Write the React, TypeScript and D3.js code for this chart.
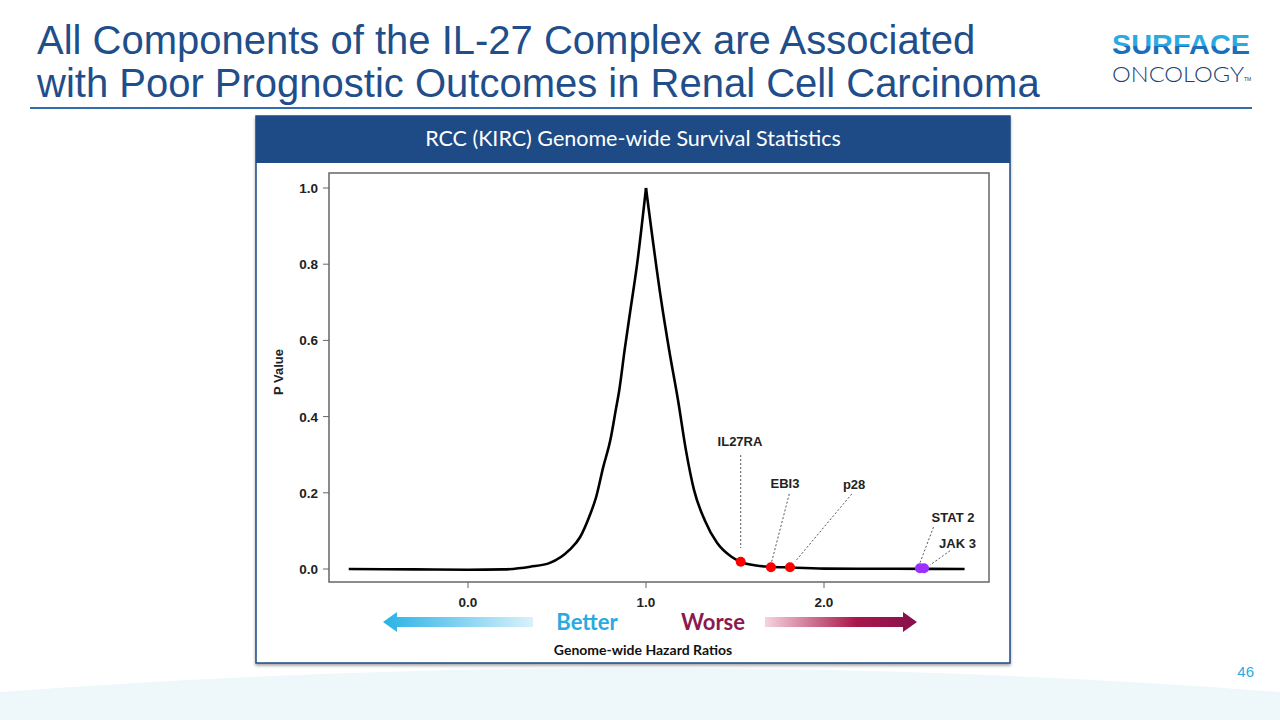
import React from "react";
import * as d3 from "d3";

// ---- Data ----
const leftHR = [-0.67, -0.3, 0.0, 0.2, 0.35, 0.46, 0.57, 0.63, 0.68, 0.72, 0.76, 0.8, 0.83, 0.85, 0.88, 0.91, 0.95, 1.0];
const leftP = [0.0, -0.001, -0.002, -0.001, 0.006, 0.016, 0.05, 0.084, 0.136, 0.189, 0.268, 0.339, 0.417, 0.47, 0.575, 0.672, 0.8, 1.0];
const rightHR = [1.0, 1.085, 1.13, 1.18, 1.225, 1.27, 1.33, 1.4, 1.48, 1.53, 1.62, 1.7, 1.8, 2.0, 2.4, 2.79];
const rightP = [1.0, 0.706, 0.575, 0.443, 0.31, 0.207, 0.128, 0.068, 0.032, 0.019, 0.009, 0.006, 0.004, 0.001, 0.0005, 0.0];

const geneNames = ["IL27RA", "EBI3", "p28", "STAT 2", "JAK 3"];
const geneHR = [1.532, 1.702, 1.809, 2.539, 2.562];
const geneP = [0.019, 0.0045, 0.0045, 0.002, 0.002];
const geneColors = ["#ff0000", "#ff0000", "#ff0000", "#9b30ff", "#9b30ff"];
// label anchor positions in data units (hazard ratio, p value)
const labelHR = [1.528, 1.781, 2.169, 2.725, 2.75];
const labelP = [0.323, 0.213, 0.21, 0.123, 0.055];
const leaderStartHR = [1.532, 1.805, 2.156, 2.615, 2.708];
const leaderStartP = [0.299, 0.197, 0.197, 0.11, 0.048];
const leaderEndHR = [1.532, 1.706, 1.837, 2.539, 2.596];
const leaderEndP = [0.055, 0.019, 0.019, 0.016, 0.0105];

const xTicks = [0, 1, 2];
const yTicks = [0, 0.2, 0.4, 0.6, 0.8, 1.0];

const titleLines = [
  "All Components of the IL-27 Complex are Associated",
  "with Poor Prognostic Outcomes in Renal Cell Carcinoma",
];

export default function App() {
  const x = d3.scaleLinear().domain([0, 2]).range([468, 824]);
  const y = d3.scaleLinear().domain([0, 1]).range([569, 188]);
  const line = d3
    .line<[number, number]>()
    .x((d) => x(d[0]))
    .y((d) => y(d[1]))
    .curve(d3.curveMonotoneX);
  const leftPts = leftHR.map((h, i) => [h, leftP[i]] as [number, number]);
  const rightPts = rightHR.map((h, i) => [h, rightP[i]] as [number, number]);

  const arial = "'Liberation Sans', Arial, sans-serif";
  const cal = "Lato, 'Open Sans', sans-serif";

  const plotL = 329, plotR = 989, plotT = 173, plotB = 582;

  return (
    <svg width={1280} height={720} style={{ position: "absolute", left: 0, top: 0, background: "#fff" }}>
      <defs>
        <linearGradient id="betterG" x1="0" x2="1" y1="0" y2="0">
          <stop offset="0%" stopColor="#29b2e6" />
          <stop offset="100%" stopColor="#d9f1fb" />
        </linearGradient>
        <linearGradient id="worseG" x1="0" x2="1" y1="0" y2="0">
          <stop offset="0%" stopColor="#f6d3df" />
          <stop offset="60%" stopColor="#a8174a" />
          <stop offset="100%" stopColor="#86104d" />
        </linearGradient>
        <linearGradient id="logoG" x1="0" x2="0" y1="0" y2="1">
          <stop offset="0%" stopColor="#2aaae2" />
          <stop offset="55%" stopColor="#2aaae2" />
          <stop offset="55%" stopColor="#1a6fb8" />
          <stop offset="100%" stopColor="#1a6fb8" />
        </linearGradient>
        <filter id="sh" x="-5%" y="-5%" width="110%" height="110%">
          <feDropShadow dx="0" dy="2" stdDeviation="1.5" floodColor="#000" floodOpacity="0.35" />
        </filter>
      </defs>

      {/* bottom background arc */}
      <path d="M0,692 Q640,644 1280,692 L1280,720 L0,720 Z" fill="#eef7fa" />

      {/* title */}
      {titleLines.map((t, i) => (
        <text key={i} x={37} y={54 + i * 43} fontFamily={arial} fontSize={40} fill="#1f4e8a">
          {t}
        </text>
      ))}
      <line x1={30} x2={1252} y1={108} y2={108} stroke="#2f6ea8" strokeWidth={2} />

      {/* logo */}
      <text x={1112} y={54} fontFamily={arial} fontWeight={900} fontSize={28} fill="url(#logoG)" textLength={138} lengthAdjust="spacingAndGlyphs">
        SURFACE
      </text>
      <text x={1112} y={82} fontFamily={"Lato, sans-serif"} fontWeight={300} fontSize={22} fill="#1b3f73" textLength={132} lengthAdjust="spacingAndGlyphs">
        ONCOLOGY
      </text>
      <text x={1244} y={81} fontFamily={arial} fontSize={5} fill="#1b3f73">TM</text>

      {/* panel */}
      <rect x={256} y={116} width={754} height={547} fill="#fff" stroke="#1e4b85" strokeWidth={1.5} filter="url(#sh)" />
      <rect x={256} y={116} width={754} height={47} fill="#1e4b85" />
      <text x={633} y={146} textAnchor="middle" fontFamily={cal} fontSize={21.5} fill="#fff">
        RCC (KIRC) Genome-wide Survival Statistics
      </text>

      {/* plot box */}
      <rect x={plotL} y={plotT} width={plotR - plotL} height={plotB - plotT} fill="none" stroke="#666" strokeWidth={1.5} />

      {/* y axis ticks */}
      {yTicks.map((t) => (
        <g key={t}>
          <line x1={plotL} x2={plotL - 6} y1={y(t)} y2={y(t)} stroke="#666" />
          <text x={plotL - 11} y={y(t) + 5} textAnchor="end" fontFamily={arial} fontWeight="bold" fontSize={13.5} fill="#222">
            {t.toFixed(1)}
          </text>
        </g>
      ))}
      <text transform={`translate(283,372) rotate(-90)`} textAnchor="middle" fontFamily={arial} fontWeight="bold" fontSize={13} fill="#222">
        P Value
      </text>

      {/* x axis ticks */}
      {xTicks.map((t) => (
        <g key={t}>
          <line x1={x(t)} x2={x(t)} y1={plotB} y2={plotB + 6} stroke="#666" />
          <text x={x(t)} y={607} textAnchor="middle" fontFamily={arial} fontWeight="bold" fontSize={13.5} fill="#222">
            {t.toFixed(1)}
          </text>
        </g>
      ))}

      {/* curve */}
      <path d={line(leftPts) || ""} fill="none" stroke="#000" strokeWidth={2.6} />
      <path d={line(rightPts) || ""} fill="none" stroke="#000" strokeWidth={2.6} />

      {/* leaders */}
      {geneNames.map((g, i) => (
        <line
          key={g + "l"}
          x1={x(leaderStartHR[i])}
          y1={y(leaderStartP[i])}
          x2={x(leaderEndHR[i])}
          y2={y(leaderEndP[i])}
          stroke="#555"
          strokeWidth={1}
          strokeDasharray="2,2"
        />
      ))}

      {/* points */}
      {geneNames.map((g, i) => (
        <circle key={g} cx={x(geneHR[i])} cy={y(geneP[i])} r={5} fill={geneColors[i]} />
      ))}

      {/* labels */}
      {geneNames.map((g, i) => (
        <text key={g + "t"} x={x(labelHR[i])} y={y(labelP[i])} textAnchor="middle" fontFamily={arial} fontWeight="bold" fontSize={13} fill="#222">
          {g}
        </text>
      ))}

      {/* arrows */}
      <path d="M383,622 L397,612 L397,617 L533,617 L533,627 L397,627 L397,632 Z" fill="url(#betterG)" />
      <path d="M917,622 L903,612 L903,617 L765,617 L765,627 L903,627 L903,632 Z" fill="url(#worseG)" />
      <text x={587} y={630} textAnchor="middle" fontFamily={cal} fontWeight="bold" fontSize={22} fill="#2aaae2">
        Better
      </text>
      <text x={713} y={630} textAnchor="middle" fontFamily={cal} fontWeight="bold" fontSize={22} fill="#8b1a4f">
        Worse
      </text>
      <text x={643} y={655} textAnchor="middle" fontFamily={cal} fontWeight="bold" fontSize={14} fill="#111">
        Genome-wide Hazard Ratios
      </text>

      {/* page number */}
      <text x={1254} y={677} textAnchor="end" fontFamily={arial} fontSize={15} fill="#29abe2">
        46
      </text>
    </svg>
  );
}
